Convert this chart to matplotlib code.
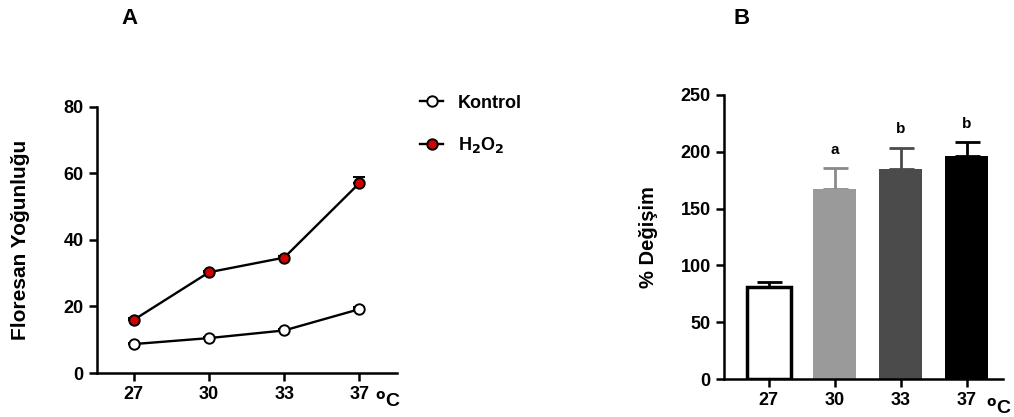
import matplotlib.pyplot as plt
from matplotlib.lines import Line2D
import numpy as np

plt.rcParams['font.family'] = ['Liberation Sans', 'DejaVu Sans']
plt.rcParams['font.weight'] = 'bold'

temps = ["27", "30", "33", "37"]
kontrol = [8.7, 10.5, 12.8, 19.2]
kontrol_err = [0.3, 0.4, 0.4, 0.5]
h2o2 = [16.0, 30.3, 34.7, 57.1]
h2o2_err = [0.5, 0.5, 0.5, 1.7]

degisim = [80.8, 167.2, 184.8, 196.0]
degisim_err = [5.0, 18.2, 18.8, 12.3]
bar_colors = ["white", "#9a9a9a", "#4b4b4b", "black"]
err_colors = ["black", "#8a8a8a", "#4b4b4b", "black"]
sig_labels = ["", "a", "b", "b"]

fig = plt.figure(figsize=(10.14, 4.17), dpi=100)
ax1 = fig.add_axes([0.0957, 0.1055, 0.2958, 0.638])
ax2 = fig.add_axes([0.714, 0.0911, 0.275, 0.6811])

x = np.arange(len(temps))

# panel A
ax1.errorbar(x, h2o2, yerr=[np.zeros(4), h2o2_err], color='black', lw=1.7,
             marker='o', ms=7.5, mfc='#d40000', mec='black', mew=1.4,
             capsize=4, capthick=2, elinewidth=1.6, zorder=3)
ax1.errorbar(x, kontrol, yerr=[np.zeros(4), kontrol_err], color='black', lw=1.7,
             marker='o', ms=7.5, mfc='white', mec='black', mew=1.4,
             capsize=4, capthick=2, elinewidth=1.6, zorder=3)
ax1.set_xlim(-0.49, 3.5)
ax1.set_ylim(0, 80)
ax1.set_yticks([0, 20, 40, 60, 80])
ax1.set_xticks(x)
ax1.set_xticklabels(temps)
ax1.set_ylabel("Floresan Yoğunluğu", fontsize=15, fontweight='bold', labelpad=24)
ax1.text(0.97, -0.105, r"$^{\rm o}$C", transform=ax1.transAxes, fontsize=14,
         fontweight='bold', va='center', ha='center')

handles = [
    Line2D([], [], color='black', lw=1.7, marker='o', ms=7.5, mfc='white', mec='black', mew=1.4),
    Line2D([], [], color='black', lw=1.7, marker='o', ms=7.5, mfc='#d40000', mec='black', mew=1.4),
]
fig.legend(handles, ['Kontrol', 'H$_2$O$_2$'], loc='upper left', bbox_to_anchor=(0.414, 0.773),
           frameon=False, fontsize=13, handlelength=1.3, handletextpad=0.8,
           labelspacing=1.3, borderaxespad=0, borderpad=0)

# panel B
for i in range(len(temps)):
    ax2.bar(x[i], degisim[i], width=0.66, color=bar_colors[i],
            edgecolor='black' if i == 0 else bar_colors[i], linewidth=2.5 if i == 0 else 0,
            zorder=2)
    ax2.errorbar(x[i], degisim[i], yerr=[[0], [degisim_err[i]]], color=err_colors[i],
                 capsize=9, capthick=2, elinewidth=2, zorder=1)
    if sig_labels[i]:
        ax2.text(x[i], degisim[i] + degisim_err[i] + 10, sig_labels[i], ha='center',
                 va='bottom', fontsize=11, fontweight='bold')
ax2.set_xlim(-0.68, 3.55)
ax2.set_ylim(0, 250)
ax2.set_yticks([0, 50, 100, 150, 200, 250])
ax2.set_xticks(x)
ax2.set_xticklabels(temps)
ax2.set_ylabel("% Değişim", fontsize=14.5, fontweight='bold', labelpad=16)
ax2.text(0.985, -0.1, r"$^{\rm o}$C", transform=ax2.transAxes, fontsize=14,
         fontweight='bold', va='center', ha='center')

for ax in (ax1, ax2):
    ax.spines['top'].set_visible(False)
    ax.spines['right'].set_visible(False)
    ax.spines['left'].set_linewidth(1.8)
    ax.spines['bottom'].set_linewidth(1.8)
    ax.tick_params(width=1.8, length=6, direction='out', labelsize=13)

fig.text(0.128, 0.955, "A", fontsize=16, fontweight='bold', ha='center', va='center')
fig.text(0.731, 0.955, "B", fontsize=16, fontweight='bold', ha='center', va='center')

fig.savefig("out.png", dpi=100)
